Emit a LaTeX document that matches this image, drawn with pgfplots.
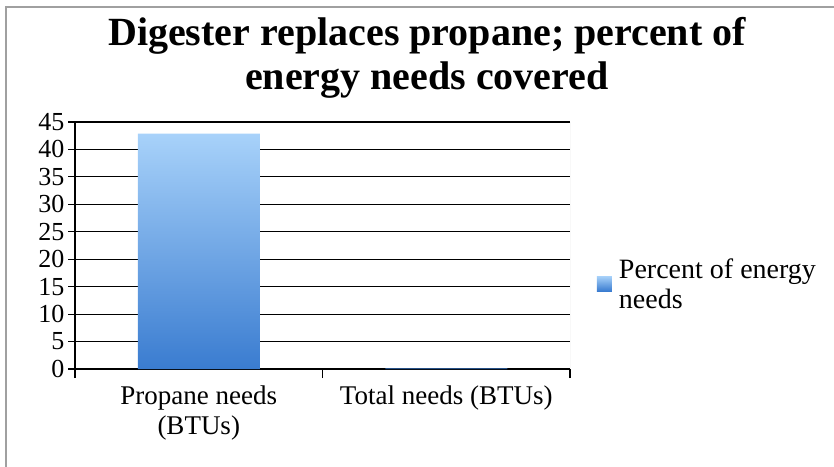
\documentclass[border=0pt]{standalone}
\usepackage{fontspec}
\setmainfont{Liberation Serif}
\usepackage{pgfplots}
\pgfplotsset{compat=1.18}
\definecolor{bartop}{RGB}{168,210,250}
\definecolor{barbot}{RGB}{58,124,208}
\definecolor{framegray}{RGB}{160,160,160}
\begin{document}
\begin{tikzpicture}[x=1pt,y=1pt]
\path[use as bounding box] (0,0) rectangle (834,466);
\draw[framegray, line width=1.5pt] (6,-5) -- (6,459) -- (840,459);
\node[align=center, font=\fontsize{40}{44}\selectfont\bfseries] at (427,408) {Digester replaces propane; percent of\\energy needs covered};
\begin{axis}[
  scale only axis, width=495pt, height=247pt,
  at={(75pt,97pt)}, anchor=south west,
  ybar, bar width=122pt,
  xmin=-0.5, xmax=1.5, ymin=0, ymax=45,
  axis x line*=bottom, axis y line*=left,
  axis line style={-, black, line width=1.2pt},
  xtick={0,1},
  xticklabels={{Propane needs\\(BTUs)},{Total needs (BTUs)}},
  xticklabel style={align=center, font=\fontsize{27}{30}\selectfont, yshift=-6pt},
  major x tick style={draw=none},
  minor xtick={-0.5,0.5,1.5},
  tick align=outside,
  major tick length=7pt, minor tick length=9pt,
  every tick/.style={black, line width=1.2pt},
  ytick={0,5,...,45},
  ymajorgrids, grid style={black, line width=1.2pt},
  yticklabel style={font=\fontsize{26}{27}\selectfont},
  /pgf/number format/assume math mode=true,
  legend style={at={(1.048,0.344)}, anchor=west, draw=none, fill=none,
    font=\fontsize{28}{30}\selectfont, cells={align=left},
    /tikz/every odd column/.append style={column sep=5pt}},
  legend image code/.code={\shade[top color=bartop,bottom color=barbot] (0pt,-7pt) rectangle (15pt,8pt);},
]
\addplot[draw=none, top color=bartop, bottom color=barbot] coordinates {(0,42.9) (1,0.1)};
\legend{{Percent of energy\\needs}}
\draw[framegray!60, line width=1pt] (rel axis cs:1,0) -- (rel axis cs:1,1);
\end{axis}
\end{tikzpicture}
\end{document}
